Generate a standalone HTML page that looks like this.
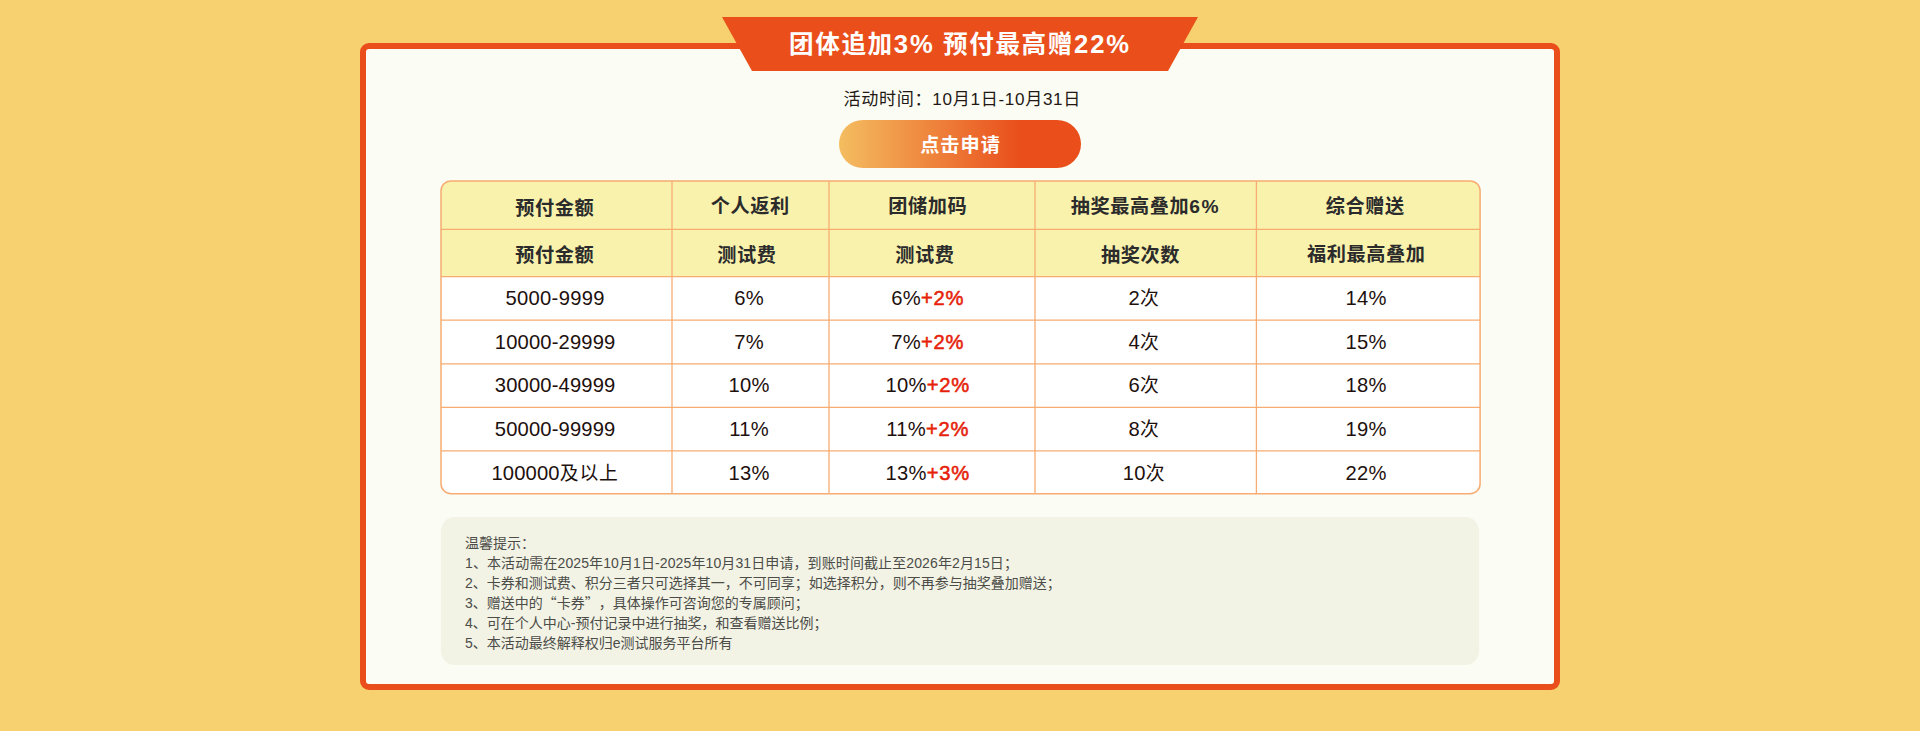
<!DOCTYPE html>
<html lang="zh-CN">
<head>
<meta charset="utf-8">
<title>团体追加3% 预付最高赠22%</title>
<style>
html,body{margin:0;padding:0;}
body{width:1920px;height:731px;overflow:hidden;background:#F7D16F;font-family:"Liberation Sans","Noto Sans CJK SC",sans-serif;}
#stage{position:relative;width:1920px;height:731px;overflow:hidden;background:#F7D16F;}
.abs{position:absolute;}
.card{left:360px;top:43px;width:1188px;height:635px;border:6px solid #E94E1B;border-radius:9px;background:#FBFCF3;}
.ribbon{left:722px;top:17px;width:476px;height:54px;}
.title{left:722px;top:17px;width:476px;height:54px;line-height:54px;text-align:center;color:#fff;font-weight:700;font-size:24.6px;letter-spacing:1.6px;white-space:nowrap;}
.title span{font-size:25.6px;letter-spacing:1.9px;}
.time{left:762.3px;top:85.6px;width:400px;height:28px;line-height:28px;text-align:center;color:#231815;font-size:17.1px;letter-spacing:0.67px;white-space:nowrap;}
.btn{left:839px;top:120px;width:242px;height:48px;border-radius:24px;background:linear-gradient(90deg,#F4BD60 0%,#E94E1B 75%,#E94E1B 100%);color:#fff;font-weight:700;font-size:19.2px;letter-spacing:0.95px;text-indent:0.5px;line-height:50.6px;text-align:center;}
.grid{left:0;top:0;width:1920px;height:731px;}
.c{position:absolute;white-space:nowrap;transform:translateX(-50%);text-align:center;}
.h{font-weight:700;font-size:19.2px;letter-spacing:0.55px;color:#2b2b2b;line-height:30px;margin-left:0.28px;}
.d{font-size:20.2px;letter-spacing:0.3px;color:#1d100d;line-height:30px;margin-left:0.15px;}
.d i{font-style:normal;font-size:18.8px;letter-spacing:0.9px;}
.d b{color:#E61F0A;font-weight:400;-webkit-text-stroke:0.55px #E61F0A;letter-spacing:0.65px;}
.tips{left:441px;top:517px;width:1038px;height:148px;border-radius:14px;background:#F2F3E4;}
.q{font-family:"Noto Sans CJK SC",sans-serif;line-height:0;}
.tiptext p{margin:0;padding:0;height:19.9px;line-height:19.9px;}
.tiptext{left:465px;top:534.2px;font-size:14px;line-height:19.9px;color:#4c4c49;white-space:nowrap;text-spacing-trim:space-all;}
.l1{letter-spacing:0.105px;}
</style>
</head>
<body>
<div id="stage">
  <div class="abs card"></div>
  <svg class="abs ribbon" width="476" height="54" viewBox="0 0 476 54"><polygon points="0,0 476,0 446,54 30,54" fill="#E94E1B"/></svg>
  <div class="abs title">团体追加<span>3%</span> 预付最高赠<span>22%</span></div>
  <div class="abs time">活动时间：10月1日-10月31日</div>
  <div class="abs btn"><span style="display:inline-block;transform:translateY(0.65px)">点击申请</span></div>

  <svg class="abs grid" width="1920" height="731" viewBox="0 0 1920 731">
    <defs><clipPath id="tc"><rect x="441" y="180.9" width="1039.1" height="312.8" rx="10" ry="10"/></clipPath></defs>
    <g clip-path="url(#tc)">
      <rect x="440" y="180" width="1041" height="97" fill="#F9F2AD"/>
      <rect x="440" y="276.7" width="1041" height="219" fill="#FFFFFF"/>
    </g>
    <g stroke="#F6AC72" stroke-width="1.3" fill="none">
      <line x1="441" x2="1480" y1="229.4" y2="229.4"/>
      <line x1="441" x2="1480" y1="276.7" y2="276.7"/>
      <line x1="441" x2="1480" y1="320.2" y2="320.2"/>
      <line x1="441" x2="1480" y1="363.9" y2="363.9"/>
      <line x1="441" x2="1480" y1="407.3" y2="407.3"/>
      <line x1="441" x2="1480" y1="450.9" y2="450.9"/>
      <line y1="181" y2="493.5" x1="672" x2="672"/>
      <line y1="181" y2="493.5" x1="829" x2="829"/>
      <line y1="181" y2="493.5" x1="1035" x2="1035"/>
      <line y1="181" y2="493.5" x1="1256.4" x2="1256.4"/>
      <rect x="441" y="180.9" width="1039.1" height="312.8" rx="10" ry="10" stroke-width="1.5"/>
    </g>
  </svg>

  <!-- header row 1 -->
  <div class="c h" style="left:554.5px;top:193.8px;">预付金额</div>
  <div class="c h" style="left:750px;top:191.8px;">个人返利</div>
  <div class="c h" style="left:927.4px;top:191.8px;">团储加码</div>
  <div class="c h" style="left:1145.2px;top:191.8px;">抽奖最高叠加<span style="letter-spacing:1.5px">6%</span></div>
  <div class="c h" style="left:1365px;top:191.8px;">综合赠送</div>
  <!-- header row 2 -->
  <div class="c h" style="left:554.5px;top:240.8px;">预付金额</div>
  <div class="c h" style="left:746.5px;top:240.8px;">测试费</div>
  <div class="c h" style="left:924.5px;top:240.8px;">测试费</div>
  <div class="c h" style="left:1140.3px;top:240.8px;">抽奖次数</div>
  <div class="c h" style="left:1366px;top:239.8px;">福利最高叠加</div>
  <!-- data rows -->
  <div class="c d" style="left:555px;top:283px;">5000-9999</div>
  <div class="c d" style="left:749px;top:283px;">6%</div>
  <div class="c d" style="left:927.5px;top:283px;">6%<b>+2%</b></div>
  <div class="c d" style="left:1144px;top:283px;">2<i>次</i></div>
  <div class="c d" style="left:1366px;top:283px;">14%</div>

  <div class="c d" style="left:555px;top:326.6px;letter-spacing:0.15px;">10000-29999</div>
  <div class="c d" style="left:749px;top:326.6px;">7%</div>
  <div class="c d" style="left:927.5px;top:326.6px;">7%<b>+2%</b></div>
  <div class="c d" style="left:1144px;top:326.6px;">4<i>次</i></div>
  <div class="c d" style="left:1366px;top:326.6px;">15%</div>

  <div class="c d" style="left:555px;top:370.2px;letter-spacing:0.15px;">30000-49999</div>
  <div class="c d" style="left:749px;top:370.2px;">10%</div>
  <div class="c d" style="left:927.5px;top:370.2px;">10%<b>+2%</b></div>
  <div class="c d" style="left:1144px;top:370.2px;">6<i>次</i></div>
  <div class="c d" style="left:1366px;top:370.2px;">18%</div>

  <div class="c d" style="left:555px;top:413.8px;letter-spacing:0.15px;">50000-99999</div>
  <div class="c d" style="left:749px;top:413.8px;">11%</div>
  <div class="c d" style="left:927.5px;top:413.8px;">11%<b>+2%</b></div>
  <div class="c d" style="left:1144px;top:413.8px;">8<i>次</i></div>
  <div class="c d" style="left:1366px;top:413.8px;">19%</div>

  <div class="c d" style="left:555px;top:458.4px;letter-spacing:0.15px;">100000<i>及以上</i></div>
  <div class="c d" style="left:749px;top:458.4px;">13%</div>
  <div class="c d" style="left:927.5px;top:458.4px;">13%<b>+3%</b></div>
  <div class="c d" style="left:1144px;top:458.4px;">10<i>次</i></div>
  <div class="c d" style="left:1366px;top:458.4px;">22%</div>

  <div class="abs tips"></div>
  <div class="abs tiptext">
    <p>温馨提示：</p>
    <p class="l1">1、本活动需在2025年10月1日-2025年10月31日申请，到账时间截止至2026年2月15日；</p>
    <p>2、卡券和测试费、积分三者只可选择其一，不可同享；如选择积分，则不再参与抽奖叠加赠送；</p>
    <p>3、赠送中的<span class="q">“</span>卡券<span class="q">”</span>，具体操作可咨询您的专属顾问；</p>
    <p>4、可在个人中心-预付记录中进行抽奖，和查看赠送比例；</p>
    <p>5、本活动最终解释权归e测试服务平台所有</p>
  </div>
</div>
</body>
</html>
